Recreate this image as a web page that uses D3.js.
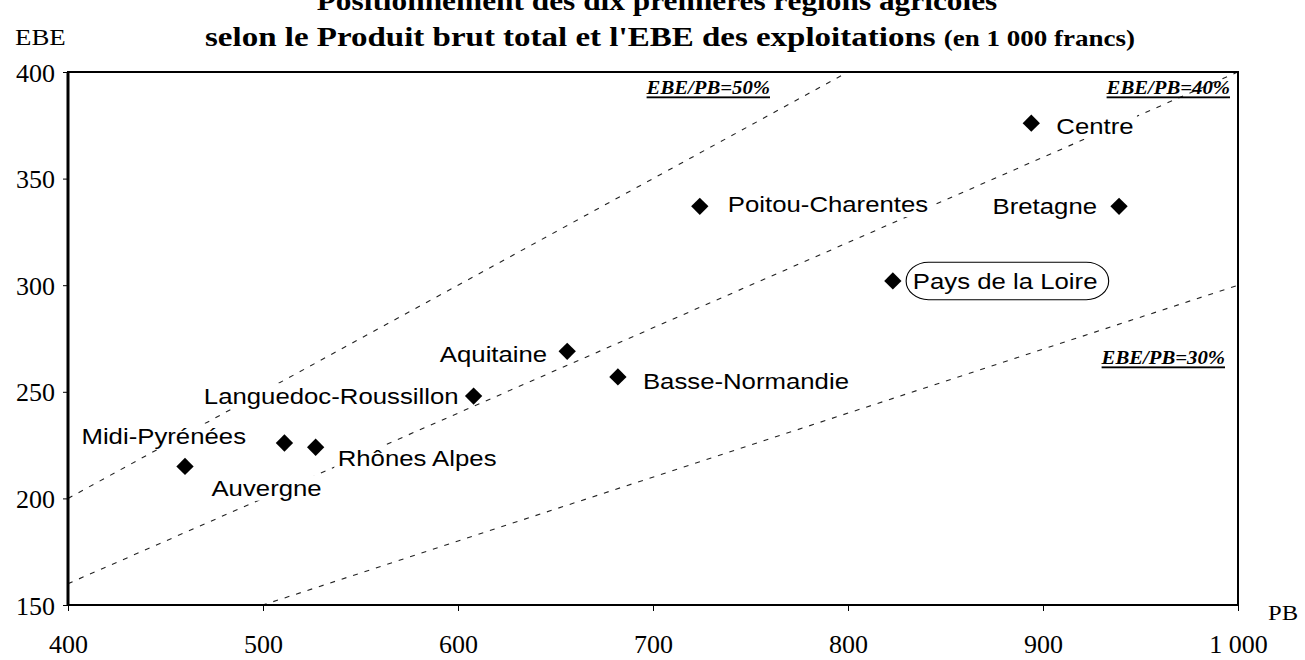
<!DOCTYPE html>
<html>
<head>
<meta charset="utf-8">
<script src="https://cdn.jsdelivr.net/npm/d3@7"></script>
<style>
  body { margin:0; background:#fff; }
  svg { display:block; }
</style>
</head>
<body>
<svg id="chart" width="1305" height="660"></svg>
<script>

//regions data
var regions = ['Midi-Pyrénées','Auvergne','Rhônes Alpes','Languedoc-Roussillon','Aquitaine',
               'Basse-Normandie','Poitou-Charentes','Pays de la Loire','Centre','Bretagne'];
var pb  = [460, 511, 527, 608, 656, 682, 724, 823, 894, 939];
var ebe = [215, 226, 224, 248, 269, 257, 337, 302, 376, 337];

//EBE/PB reference lines
var ratios = [0.5, 0.4, 0.3];
var ratioLabels = ['EBE/PB=50%', 'EBE/PB=40%', 'EBE/PB=30%'];

//axis ticks
var xTicks = [400, 500, 600, 700, 800, 900, 1000];
var xTickLabels = ['400','500','600','700','800','900','1 000'];
var yTicks = [150, 200, 250, 300, 350, 400];

//label placement (offset from the point, in px)
var labelPos = [
  {dx:61, dy:-30, a:'end'},
  {dx:-73, dy:45, a:'start'},
  {dx:22, dy:11, a:'start'},
  {dx:-15, dy:0, a:'end'},
  {dx:-20, dy:3, a:'end'},
  {dx:25, dy:4, a:'start'},
  {dx:28, dy:-2, a:'start'},
  {dx:20, dy:0, a:'start', box:true},
  {dx:25, dy:3, a:'start'},
  {dx:-22, dy:0, a:'end'}
];
var ratioLabelPos = [{x:770, y:87}, {x:1230, y:87}, {x:1225, y:357}];

var sx = 1.12; // the scan is a bit wider than tall
var pLeft = 68, pRight = 1238, pTop = 72, pBottom = 605;

var x = d3.scaleLinear().domain([400, 1000]).range([pLeft, pRight]);
var y = d3.scaleLinear().domain([150, 400]).range([pBottom, pTop]);

var svg = d3.select('#chart');

svg.append('rect').attr('width',1305).attr('height',660).attr('fill','#fff');

//titles
var title = svg.append('g').style('font-family','"Liberation Serif", "Times New Roman", serif')
               .style('font-weight','bold');
title.append('text')
     .attr('transform','translate(657,10) scale('+sx+',1)')
     .attr('text-anchor','middle')
     .style('font-size','28px')
     .text('Positionnement des dix premières régions agricoles');
var t2 = title.append('text')
     .attr('transform','translate(670,46) scale(1.2,1)')
     .attr('text-anchor','middle')
     .style('font-size','27.5px');
t2.append('tspan').text("selon le Produit brut total et l'EBE des exploitations ");
t2.append('tspan').style('font-size','22.5px').text('(en 1 000 francs)');

svg.append('text')
   .attr('transform','translate(15,45) scale('+sx+',1)')
   .style('font-family','"Liberation Serif", serif')
   .style('font-size','24px')
   .text('EBE');

svg.append('text')
   .attr('transform','translate(1268,620) scale('+sx+',1)')
   .style('font-family','"Liberation Serif", serif')
   .style('font-size','22px')
   .text('PB');

//clip for the ratio lines
svg.append('clipPath').attr('id','plot')
   .append('rect').attr('x',pLeft).attr('y',pTop)
   .attr('width',pRight-pLeft).attr('height',pBottom-pTop);

var line = d3.line().x(function(d){ return x(d[0]) }).y(function(d){ return y(d[1]) });

svg.append('g').attr('clip-path','url(#plot)')
   .selectAll('path').data(ratios).enter()
   .append('path')
   .attr('d',function(r){ return line([[400, 400*r],[1000, 1000*r]]) })
   .attr('fill','none')
   .attr('stroke','#222')
   .attr('stroke-width',1.1)
   .attr('stroke-dasharray','5,7');

//axes
var xAxis = d3.axisBottom(x).tickValues(xTicks).tickSize(6).tickPadding(24)
              .tickFormat(function(d,i){ return xTickLabels[i] });
var yAxis = d3.axisLeft(y).tickValues(yTicks).tickSize(5).tickPadding(8);

var gx = svg.append('g').attr('transform','translate(0,'+pBottom+')').call(xAxis);
var gy = svg.append('g').attr('transform','translate('+pLeft+',0)').call(yAxis);

[gx, gy].forEach(function(g){
  g.select('.domain').remove();
  g.selectAll('line').attr('stroke','#000');
  g.selectAll('text')
   .style('font-family','"Liberation Serif", serif')
   .style('font-size','26px')
   .attr('fill','#000');
});
gx.selectAll('.tick text').attr('dy','0.71em');
gy.selectAll('.tick text').attr('dy','0.35em');

//frame
svg.append('rect')
   .attr('x',pLeft).attr('y',pTop)
   .attr('width',pRight-pLeft).attr('height',pBottom-pTop)
   .attr('fill','none').attr('stroke','#000').attr('stroke-width',2);
svg.append('line').attr('x1',pLeft).attr('x2',pLeft).attr('y1',pTop).attr('y2',pBottom)
   .attr('stroke','#000').attr('stroke-width',3);

//ratio labels
svg.selectAll('.ratio').data(ratioLabels).enter()
   .append('text')
   .attr('class','ratio')
   .attr('transform',function(d,i){ return 'translate('+ratioLabelPos[i].x+','+ratioLabelPos[i].y+') scale('+sx+',1)' })
   .attr('text-anchor','end')
   .attr('dominant-baseline','central')
   .style('font-family','"Liberation Serif", serif')
   .style('font-style','italic')
   .style('font-weight','bold')
   .style('font-size','18.5px')
   .style('text-decoration','underline')
   .text(function(d){ return d });

//region labels with white background
var labels = svg.selectAll('.lab').data(regions).enter()
   .append('g')
   .attr('class','lab')
   .attr('transform',function(d,i){
      return 'translate('+(x(pb[i])+labelPos[i].dx)+','+(y(ebe[i])+labelPos[i].dy)+') scale('+sx+',1)';
   });

labels.append('rect').attr('class','bg');

labels.append('text')
   .attr('text-anchor',function(d,i){ return labelPos[i].a })
   .attr('dominant-baseline','central')
   .style('font-family','"Liberation Sans", Arial, sans-serif')
   .style('font-size','23px')
   .attr('fill','#000')
   .text(function(d){ return d });

labels.each(function(d,i){
  var g = d3.select(this);
  var b = g.select('text').node().getBBox();
  if (labelPos[i].box) {
    g.select('rect')
     .attr('x',b.x-6).attr('y',b.y-6)
     .attr('width',b.width+16).attr('height',b.height+12)
     .attr('rx',20).attr('ry',20)
     .attr('fill','#fff').attr('stroke','#000').attr('stroke-width',1);
  } else {
    g.select('rect')
     .attr('x',b.x-3).attr('y',b.y)
     .attr('width',b.width+6).attr('height',b.height)
     .attr('fill','#fff');
  }
});

//points
svg.selectAll('.pt').data(regions).enter()
   .append('path')
   .attr('class','pt')
   .attr('d',d3.symbol(d3.symbolSquare, 150))
   .attr('transform',function(d,i){ return 'translate('+x(pb[i])+','+y(ebe[i])+') rotate(45)' })
   .attr('fill','#000');

</script>
</body>
</html>
